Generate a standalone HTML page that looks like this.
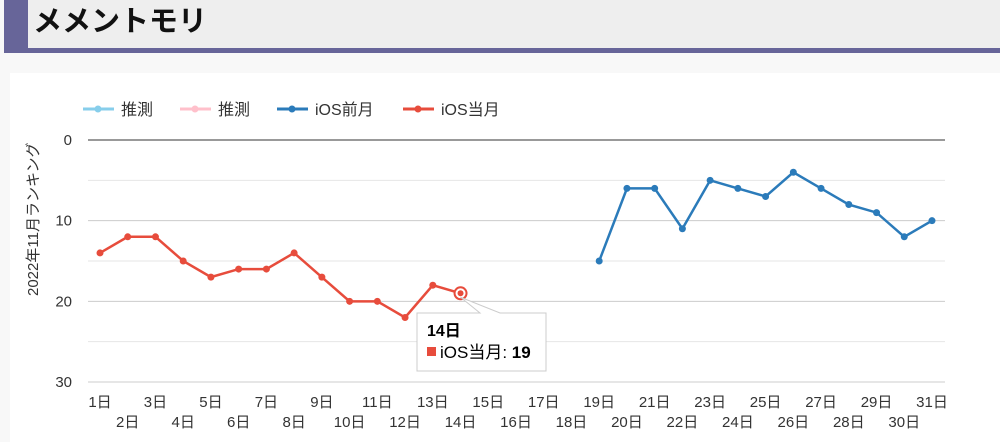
<!DOCTYPE html>
<html><head><meta charset="utf-8">
<style>
body{margin:0;width:1000px;height:442px;background:#f8f8f8;font-family:"Liberation Sans","Noto Sans CJK JP",sans-serif;overflow:hidden;position:relative}
#hdr{position:absolute;left:4px;top:0;width:996px;height:53px;background:#676599}
#hdr-in{position:absolute;left:28px;top:0;width:972px;height:48px;background:#eeeeee}
#title{position:absolute;left:33px;top:2px;font-size:29px;font-weight:bold;color:#111;line-height:40px}
#card{position:absolute;left:10px;top:73px;width:990px;height:369px;background:#fff}
svg{position:absolute;left:0;top:0}
</style></head><body>
<div id="hdr"></div>
<div id="hdr-in"></div>
<div id="title">メメントモリ</div>
<div id="card"></div>
<svg id="chart" width="1000" height="442"></svg>
<script>
const days = Array.from({length:31},(_,i)=>i+1);
const currentDays = [1,2,3,4,5,6,7,8,9,10,11,12,13,14];
const currentValues = [14,12,12,15,17,16,16,14,17,20,20,22,18,19];
const prevDays = [19,20,21,22,23,24,25,26,27,28,29,30,31];
const prevValues = [15,6,6,11,5,6,7,4,6,8,9,12,10];
const yTicks = [0,10,20,30];
const legendLabels = ["推測","推測","iOS前月","iOS当月"];
const legendColors = ["#87ceeb","#ffc0cb","#2b7bba","#e74c3c"];

const NS="http://www.w3.org/2000/svg";
const svg=document.getElementById('chart');
const X=d=>100+(d-1)*(932-100)/30;
const Y=v=>140+v*(382-140)/30;
function el(t,a,p){const e=document.createElementNS(NS,t);for(const k in a)e.setAttribute(k,a[k]);(p||svg).appendChild(e);return e;}

for(let v=0;v<=30;v+=5){
  const g=el('line',{x1:88,x2:945,y1:Y(v),y2:Y(v),stroke:v===0?'#333':(v%10===0?'#ccc':'#e6e6e6'),'stroke-width':1});
  
  
}
yTicks.forEach(v=>{
  const t=el('text',{x:72,y:Y(v)+5,'text-anchor':'end','font-size':15,fill:'#333'});
  t.textContent=v;
  
  
});
const yt=el('text',{x:0,y:0,transform:'translate(38,296) rotate(-90)','font-size':15,fill:'#333'});
yt.textContent='2022年11月ランキング';


days.forEach(d=>{
  const t=el('text',{x:X(d),y:d%2?407:427,'text-anchor':'middle','font-size':15,fill:'#333'});
  t.textContent=d+'日';
  
  
});
const legX=[83,180,277,403];
legendLabels.forEach((lab,i)=>{
  const lx=legX[i];
  const l=el('line',{x1:lx,x2:lx+31,y1:109,y2:109,stroke:legendColors[i],'stroke-width':3});
  
  
  const c=el('circle',{cx:lx+15,cy:109,r:3.5,fill:legendColors[i]});
  
  
  const t=el('text',{x:lx+38,y:115,'font-size':16,fill:'#333'});
  t.textContent=lab;
  
  
});
function series(ds,vs,col,name){
  const p=el('polyline',{points:ds.map((d,i)=>X(d)+','+Y(vs[i])).join(' '),fill:'none',stroke:col,'stroke-width':2.5});
  
  
  ds.forEach((d,i)=>{
    const c=el('circle',{cx:X(d),cy:Y(vs[i]),r:3.5,fill:col});
    
    
  });
}
series(prevDays,prevValues,'#2b7bba','ios-prev-month');
series(currentDays,currentValues,'#e74c3c','ios-current-month');
const li=currentDays.length-1,px=X(currentDays[li]),py=Y(currentValues[li]);
const h=el('circle',{cx:px,cy:py,r:6,fill:'#fff',stroke:'#e74c3c','stroke-width':2});


el('circle',{cx:px,cy:py,r:3,fill:'#e74c3c'});
const tg=el('g',{});


el('path',{d:`M417,313 H480 L${px},${py+4} L500,313 H546 V371 H417 Z`,fill:'#fff',stroke:'#ccc','stroke-width':1},tg);
const t1=el('text',{x:427,y:336,'font-size':16,'font-weight':'bold',fill:'#000'},tg);t1.textContent=currentDays[li]+'日';
el('rect',{x:427,y:347,width:9,height:9,fill:'#e74c3c'},tg);
const t2=el('text',{x:440,y:358,'font-size':17,fill:'#000'},tg);
t2.innerHTML='iOS当月: <tspan font-weight="bold">'+currentValues[li]+'</tspan>';
</script>
</body></html>
